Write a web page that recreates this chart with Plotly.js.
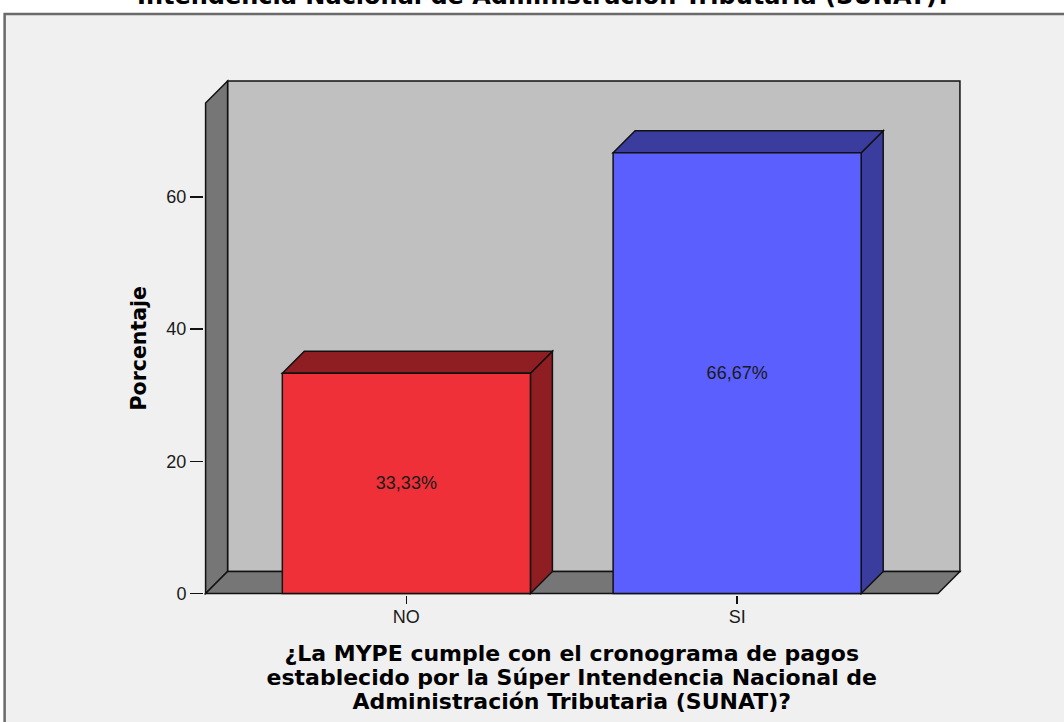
<!DOCTYPE html>
<html>
<head>
<meta charset="utf-8">
<script src="https://cdn.plot.ly/plotly-3.0.1.min.js"></script>
<style>html,body{margin:0;padding:0;background:#ffffff;}#chart{width:1064px;height:722px;}</style>
</head>
<body>
<div id="chart"></div>
<script>
// ---- data ----
const categories = ["NO", "SI"];
const percentages = [33.33, 66.67];
const yTickValues = [0, 20, 40, 60];
const yTickLabels = ["0", "20", "40", "60"];
const chartTitle = "¿La MYPE cumple con el cronograma de pagos establecido por la Súper<br>Intendencia Nacional de Administración Tributaria (SUNAT)?";
const xTitle = "¿La MYPE cumple con el cronograma de pagos<br>establecido por la Súper Intendencia Nacional de<br>Administración Tributaria (SUNAT)?";
const yTitle = "Porcentaje";

// ---- style ----
const frontColors = ["#ef3039", "#5a5ffd"];
const sideColors = ["#8e1e22", "#3a3c9e"];
const BAR_W = 0.75;
const X0 = -0.607, X1 = 1.607, YMAX = 74.2;   // front plane of the 3D box
const DX = 0.0665, DY = 3.32;                  // depth offset
const XR = [-0.6118, 1.6888], YR = [-0.2267, 77.98];
const LINE = {color: "#111111", width: 1.5};
const BOLD = "DejaVu Sans, Verdana, sans-serif";
const REG = "Liberation Sans, Arial, sans-serif";

const xIdx = categories.map((c, i) => i);
const labels = percentages.map(v => v.toFixed(2).replace(".", ",") + "%");

function poly(pts) {
  return "M" + pts.map(p => p[0] + "," + p[1]).join(" L") + " Z";
}

const shapes = [];
// outer frame
shapes.push({type: "rect", xref: "paper", yref: "paper", x0: -0.262, x1: 1.4, y0: -0.5, y1: 1.1237,
  fillcolor: "#f0f0f0", line: {color: "#6a6a6a", width: 2.5}, layer: "below"});
// back wall
shapes.push({type: "path", xref: "x", yref: "y", layer: "below",
  path: poly([[X0 + DX, DY], [X1 + DX, DY], [X1 + DX, YMAX + DY], [X0 + DX, YMAX + DY]]),
  fillcolor: "#c0c0c0", line: LINE});
// left wall
shapes.push({type: "path", xref: "x", yref: "y", layer: "below",
  path: poly([[X0, 0], [X0, YMAX], [X0 + DX, YMAX + DY], [X0 + DX, DY]]),
  fillcolor: "#767676", line: LINE});
// floor
shapes.push({type: "path", xref: "x", yref: "y", layer: "below",
  path: poly([[X0, 0], [X0 + DX, DY], [X1 + DX, DY], [X1, 0]]),
  fillcolor: "#767676", line: LINE});
// bar sides and tops
xIdx.forEach((x, i) => {
  const v = percentages[i];
  const xl = x - BAR_W / 2, xr = x + BAR_W / 2;
  shapes.push({type: "path", xref: "x", yref: "y", layer: "below",
    path: poly([[xr, 0], [xr + DX, DY], [xr + DX, v + DY], [xr, v]]),
    fillcolor: sideColors[i], line: LINE});
  shapes.push({type: "path", xref: "x", yref: "y", layer: "below",
    path: poly([[xl, v], [xl + DX, v + DY], [xr + DX, v + DY], [xr, v]]),
    fillcolor: sideColors[i], line: LINE});
});

const trace = {
  type: "bar",
  x: xIdx,
  y: percentages,
  width: BAR_W,
  marker: {color: frontColors, line: LINE},
  text: labels,
  textposition: "inside",
  insidetextanchor: "middle",
  textangle: 0,
  textfont: {family: REG, size: 18, color: "#1a1a1a"},
  hoverinfo: "skip"
};

const layout = {
  width: 1064, height: 722,
  margin: {l: 203.5, r: 99, t: 78, b: 126.5},
  paper_bgcolor: "#ffffff",
  plot_bgcolor: "rgba(0,0,0,0)",
  showlegend: false,
  font: {family: REG, color: "#1a1a1a"},
  annotations: [{
    text: chartTitle, xref: "paper", yref: "paper", x: 0.4471, y: 1.1285,
    xanchor: "center", yanchor: "bottom", showarrow: false, align: "center",
    font: {family: BOLD, size: 24, color: "#000000", weight: "bold"}
  }],
  xaxis: {
    range: XR,
    tickmode: "array", tickvals: xIdx, ticktext: categories,
    ticks: "outside", ticklen: 8, tickwidth: 1.5, tickcolor: "#111111",
    ticklabelstandoff: -3,
    showgrid: false, zeroline: false, showline: false,
    tickfont: {family: REG, size: 18, color: "#1a1a1a"},
    title: {text: xTitle, standoff: 20,
      font: {family: BOLD, size: 22, color: "#000000", weight: "bold"}},
    automargin: false, fixedrange: true
  },
  yaxis: {
    range: YR,
    tickmode: "array", tickvals: yTickValues, ticktext: yTickLabels,
    ticks: "outside", ticklen: 13, tickwidth: 1.5, tickcolor: "#111111",
    showgrid: false, zeroline: false, showline: false,
    tickfont: {family: REG, size: 18, color: "#1a1a1a"},
    title: {text: yTitle, standoff: 14,
      font: {family: BOLD, size: 20.5, color: "#000000", weight: "bold"}},
    automargin: false, fixedrange: true
  },
  shapes: shapes,
  bargap: 0
};

Plotly.newPlot("chart", [trace], layout, {staticPlot: true, displayModeBar: false}).then(gd => {
  const fl = gd._fullLayout;
  // tighter line spacing for the multi-line x-axis title, as in the reference
  gd.querySelectorAll(".g-xtitle tspan.line").forEach(t => {
    const dy = t.getAttribute("dy");
    if (dy && dy.endsWith("em")) {
      t.setAttribute("dy", (parseFloat(dy) * 1.07 / 1.3) + "em");
    }
  });
  // centre the axis titles on the front plane of the 3D box (as SPSS does)
  const xShift = ((X0 + X1) / 2 - (XR[0] + XR[1]) / 2) * fl.xaxis._length / (XR[1] - XR[0]);
  const yShift = -(((0 + YMAX) / 2) - (YR[0] + YR[1]) / 2) * fl.yaxis._length / (YR[1] - YR[0]);
  const gx = gd.querySelector(".g-xtitle");
  const gy = gd.querySelector(".g-ytitle");
  if (gx) gx.setAttribute("transform", "translate(" + xShift + ",0)");
  if (gy) gy.setAttribute("transform", "translate(0," + yShift + ")");
});
</script>
</body>
</html>
